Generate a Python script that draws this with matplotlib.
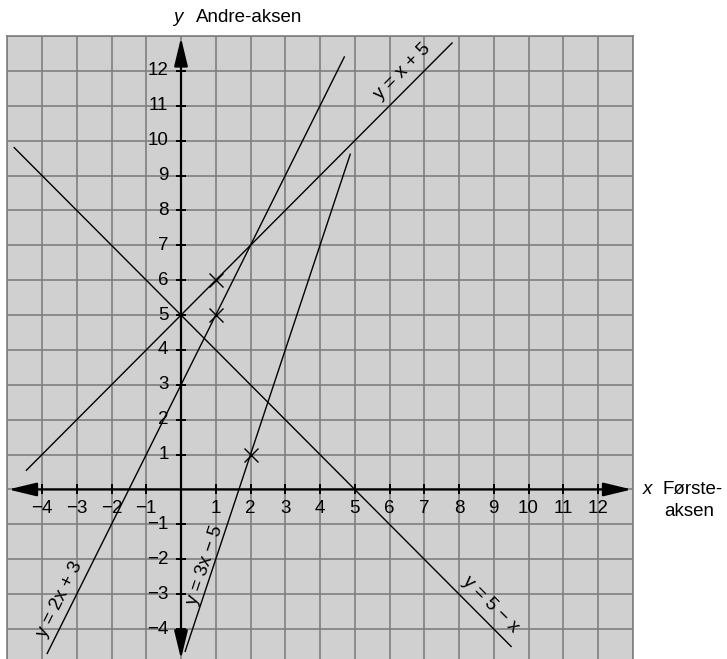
import numpy as np
import matplotlib
matplotlib.use("Agg")
import matplotlib.pyplot as plt

plt.rcParams['font.family'] = ['Liberation Sans', 'DejaVu Sans']

# --- data ---
x_ticks = [-4, -3, -2, -1, 1, 2, 3, 4, 5, 6, 7, 8, 9, 10, 11, 12]
y_ticks = [-4, -3, -2, -1, 1, 2, 3, 4, 5, 6, 7, 8, 9, 10, 11, 12]

# lines y = a*x + b, drawn between x_start and x_end
line_names = ["y = x + 5", "y = 2x + 3", "y = 3x \u2212 5", "y = 5 \u2212 x"]
slopes = [1, 2, 3, -1]
intercepts = [5, 3, -5, 5]
x_start = [-4.45, -3.85, 0.12, -4.8]
x_end = [7.8, 4.7, 4.87, 9.5]

# label centres (data coords)
label_x = [6.36, -3.5, 0.69, 8.92]
label_y = [11.98, -3.15, -2.18, -3.3]

# marked points
cross_x = [1, 1, 2]
cross_y = [6, 5, 1]

FS = 13.5
W, H = 727, 659
fig = plt.figure(figsize=(W / 100, H / 100), dpi=100)
ax = fig.add_axes([7.25 / W, 0, 625.5 / W, 623 / H])
ax.set_xlim(-5, 13)
ax.set_ylim(-4.86, 13)
ax.set_facecolor('#d0d0d0')

# grid
for gx in range(-5, 14):
    ax.axvline(gx, color='#7f7f7f', lw=1.2, zorder=1)
for gy in range(-5, 14):
    ax.axhline(gy, color='#7f7f7f', lw=1.2, zorder=1)
ax.set_xticks([])
ax.set_yticks([])
for s in ax.spines.values():
    s.set_color('#7f7f7f')
    s.set_linewidth(1.2)
ax.spines['bottom'].set_visible(False)

# axes with arrows
arrow = dict(arrowstyle='<|-|>,head_length=1.08,head_width=0.26', color='black',
             lw=1.6, shrinkA=0, shrinkB=0, mutation_scale=16)
ax.annotate('', xy=(-4.97, 0), xytext=(12.97, 0), arrowprops=arrow, zorder=4)
ax.annotate('', xy=(0, -4.86), xytext=(0, 12.95), arrowprops=arrow, zorder=4)

# tick marks
ax.plot(x_ticks, [0] * len(x_ticks), ls='none', marker='|', ms=7.5, mew=1.4,
        color='black', zorder=4)
ax.plot([0] * len(y_ticks), y_ticks, ls='none', marker='_', ms=7.5, mew=1.4,
        color='black', zorder=4)

# tick labels
for t in x_ticks:
    lab = str(t).replace('-', '\u2212')
    ax.annotate(lab, (t, 0), xytext=(0, -14), textcoords='offset points',
                ha='center', va='center', fontsize=FS, zorder=5)
for t in y_ticks:
    lab = str(t).replace('-', '\u2212')
    ax.annotate(lab, (0, t), xytext=(-9, 0), textcoords='offset points',
                ha='right', va='center', fontsize=FS, zorder=5)

# lines
for i in range(len(slopes)):
    xs = np.array([x_start[i], x_end[i]])
    ys = slopes[i] * xs + intercepts[i]
    ax.plot(xs, ys, color='black', lw=1.0, zorder=3)
    ax.text(label_x[i], label_y[i], line_names[i], fontsize=FS,
            rotation=np.degrees(np.arctan(slopes[i])), rotation_mode='anchor',
            ha='center', va='center', zorder=5)

ax.plot(cross_x, cross_y, ls='none', marker='x', ms=10, mew=1.0,
        color='black', zorder=4)

# axis names
fig.text(178 / W, 1 - 17 / H, 'y', style='italic', fontsize=FS,
         ha='center', va='center')
fig.text(196 / W, 1 - 17 / H, 'Andre-aksen', fontsize=FS, ha='left', va='center')
fig.text(647 / W, 1 - 490 / H, 'x', style='italic', fontsize=FS,
         ha='center', va='center')
fig.text(663 / W, 1 - 489 / H, 'F\u00f8rste-', fontsize=FS, ha='left', va='center')
fig.text(664 / W, 1 - 512 / H, 'aksen', fontsize=FS, ha='left', va='center')

fig.savefig('out.png', dpi=100)
